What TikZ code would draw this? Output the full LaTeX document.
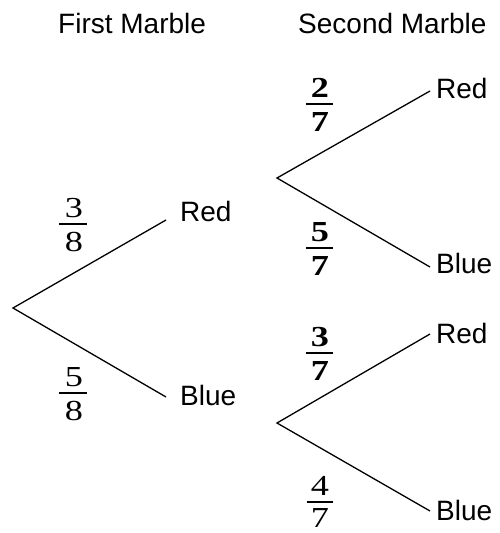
\documentclass[tikz,border=0pt]{standalone}
\usepackage{fontspec}
\setmainfont{Liberation Sans}
\newfontfamily\serif[FakeStretch=1.25]{Liberation Serif}
\begin{document}
\begin{tikzpicture}[x=1pt,y=-1pt,
  lbl/.style={font=\fontsize{28}{30}\selectfont, inner sep=0, anchor=base west},
  dig/.style={font=\fontsize{29}{30}\selectfont\serif, inner sep=0},
  bdig/.style={font=\fontsize{29}{30}\selectfont\serif\bfseries, inner sep=0},
  branch/.style={line width=1.3pt},
  fbar/.style={line width=1.3pt},
  bbar/.style={line width=1.8pt}]
\useasboundingbox (0,0) rectangle (500,533);
% headers
\node[lbl] (h1) at (58,33) {First Marble};
\node[lbl] (h2) at (298,33) {Second Marble};
% coordinates
\coordinate (r0) at (13,308);
\coordinate (a1) at (166,220);
\coordinate (b1) at (166,397);
\coordinate (r1) at (277,178);
\coordinate (a2) at (430,91);
\coordinate (b2) at (430,267);
\coordinate (r2) at (277,423);
\coordinate (a3) at (430,334);
\coordinate (b3) at (430,511);
% branches
\draw[branch] (a1) -- (r0) -- (b1);
\draw[branch] (a2) -- (r1) -- (b2);
\draw[branch] (a3) -- (r2) -- (b3);
% outcome labels
\node[lbl] (tr1) at (180,221) {Red};
\node[lbl] (tb1) at (180,405) {Blue};
\node[lbl] (tr2) at (436,98) {Red};
\node[lbl] (tb2) at (436,273) {Blue};
\node[lbl] (tr3) at (436,343) {Red};
\node[lbl] (tb3) at (436,520) {Blue};
% fraction 3/8
\node[dig] (n1) at (74,208) {3};
\coordinate (f1l) at (59,224); \coordinate (f1r) at (87,224);
\draw[fbar] (f1l) -- (f1r);
\node[dig] (d1) at (74,242) {8};
% fraction 5/8
\node[dig] (n2) at (74,377) {5};
\coordinate (f2l) at (59,393); \coordinate (f2r) at (87,393);
\draw[fbar] (f2l) -- (f2r);
\node[dig] (d2) at (74,411) {8};
% fraction 2/7
\node[bdig] (n3) at (320,88) {2};
\coordinate (f3l) at (306,104); \coordinate (f3r) at (333,104);
\draw[bbar] (f3l) -- (f3r);
\node[bdig] (d3) at (320,122) {7};
% fraction 5/7
\node[bdig] (n4) at (320,232) {5};
\coordinate (f4l) at (306,248); \coordinate (f4r) at (333,248);
\draw[bbar] (f4l) -- (f4r);
\node[bdig] (d4) at (320,266) {7};
% fraction 3/7
\node[bdig] (n5) at (320,337) {3};
\coordinate (f5l) at (306,353); \coordinate (f5r) at (333,353);
\draw[bbar] (f5l) -- (f5r);
\node[bdig] (d5) at (320,371) {7};
% fraction 4/7
\node[dig] (n6) at (320,486) {4};
\coordinate (f6l) at (307,502); \coordinate (f6r) at (333,502);
\draw[fbar] (f6l) -- (f6r);
\node[dig] (d6) at (320,518) {7};
\end{tikzpicture}
\end{document}
